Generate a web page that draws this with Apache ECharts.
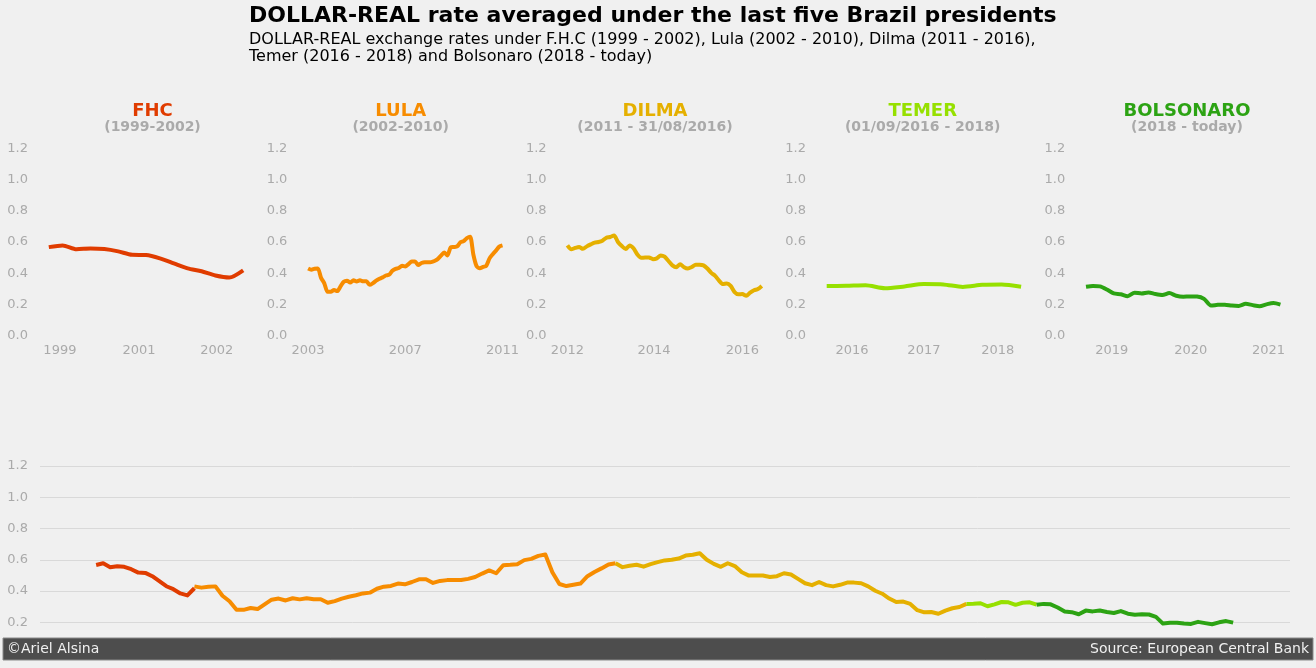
<!DOCTYPE html>
<html><head><meta charset="utf-8">
<script src="https://cdn.jsdelivr.net/npm/echarts@6/dist/echarts.min.js"></script>
<style>html,body{margin:0;padding:0;background:#f0f0f0}#chart{width:1316px;height:668px}</style>
</head><body><div id="chart"></div>
<script>
// ---------------- data ----------------
const mainTitle = 'DOLLAR-REAL rate averaged under the last five Brazil presidents';
const subTitle = 'DOLLAR-REAL exchange rates under F.H.C (1999 - 2002), Lula (2002 - 2010), Dilma (2011 - 2016),\nTemer (2016 - 2018) and Bolsonaro (2018 - today)';
const presidents = ['FHC', 'LULA', 'DILMA', 'TEMER', 'BOLSONARO'];
const periods = ['(1999-2002)', '(2002-2010)', '(2011 - 31/08/2016)', '(01/09/2016 - 2018)', '(2018 - today)'];

const fhcValues = [0.567,0.578,0.553,0.559,0.555,0.54,0.518,0.516,0.495,0.463,0.431,0.412,0.385,0.372,0.418];
const lulaValues = [0.43,0.422,0.428,0.43,0.37,0.335,0.28,0.28,0.292,0.285,0.315,0.345,0.352,0.34,0.354,0.347,0.354,0.348,0.348,0.325,0.336,0.352,0.364,0.373,0.385,0.39,0.415,0.428,0.433,0.448,0.443,0.458,0.475,0.475,0.452,0.465,0.47,0.47,0.471,0.478,0.49,0.512,0.532,0.514,0.565,0.568,0.572,0.598,0.606,0.625,0.634,0.52,0.445,0.432,0.44,0.448,0.495,0.522,0.545,0.57,0.578];
const dilmaValues = [0.578,0.553,0.562,0.568,0.556,0.572,0.585,0.596,0.6,0.608,0.627,0.632,0.642,0.6,0.574,0.555,0.578,0.56,0.52,0.499,0.5,0.5,0.49,0.495,0.514,0.506,0.478,0.45,0.438,0.458,0.438,0.43,0.44,0.454,0.454,0.45,0.43,0.402,0.383,0.352,0.33,0.333,0.318,0.278,0.264,0.266,0.255,0.275,0.29,0.298,0.318];
const temerValues = [0.318,0.319,0.322,0.303,0.315,0.33,0.328,0.312,0.325,0.328,0.313];
const bolsonaroValues = [0.313,0.318,0.315,0.295,0.27,0.265,0.252,0.275,0.27,0.276,0.266,0.26,0.272,0.255,0.249,0.251,0.25,0.235,0.192,0.197,0.198,0.192,0.19,0.203,0.195,0.188,0.2,0.208,0.198];

// x tick positions (in point index of each period) and their labels
const fhcTicks = [0.8, 6.5, 12.1];     const fhcTickLabels = ['1999', '2001', '2002'];
const lulaTicks = [0, 30, 60];         const lulaTickLabels = ['2003', '2007', '2011'];
const dilmaTicks = [0, 22.3, 45];      const dilmaTickLabels = ['2012', '2014', '2016'];
const temerTicks = [1.3, 5, 8.8];      const temerTickLabels = ['2016', '2017', '2018'];
const bolsonaroTicks = [3.7, 15.1, 26.3]; const bolsonaroTickLabels = ['2019', '2020', '2021'];

const footerLeft = '©Ariel Alsina';
const footerRight = 'Source: European Central Bank';

// ---------------- chart ----------------
const seriesValues = [fhcValues, lulaValues, dilmaValues, temerValues, bolsonaroValues];
const tickPos = [fhcTicks, lulaTicks, dilmaTicks, temerTicks, bolsonaroTicks];
const tickLab = [fhcTickLabels, lulaTickLabels, dilmaTickLabels, temerTickLabels, bolsonaroTickLabels];
const colors = ['#e03c00', '#f78c00', '#e5b000', '#96e000', '#2ca313'];
const headX = [152.5, 400.7, 655, 922.7, 1187];
const FONT = 'DejaVu Sans';
const grey = '#aaaaaa';

const grids = [], xAxes = [], yAxes = [], series = [];
const offsets = [];
let off = 0;
seriesValues.forEach((vals, k) => { offsets.push(off); off += vals.length - 1; });
const totalIdx = off;

seriesValues.forEach((vals, k) => {
  const L = vals.length - 1;
  const pad = L / 18;
  grids.push({ left: 38 + 259.3 * k, width: 216, top: 148.5, height: 187 });
  const ticks = tickPos[k], labs = tickLab[k];
  xAxes.push({
    type: 'value', gridIndex: k, min: -pad, max: L + pad,
    axisLine: { show: false }, axisTick: { show: false }, splitLine: { show: false },
    axisLabel: {
      customValues: ticks, color: grey, fontSize: 13, fontFamily: FONT, margin: 9,
      formatter: function (v) {
        for (let i = 0; i < ticks.length; i++) if (Math.abs(ticks[i] - v) < 1e-6) return labs[i];
        return '';
      }
    }
  });
  yAxes.push({
    type: 'value', gridIndex: k, min: 0, max: 1.2, interval: 0.2,
    axisLine: { show: false }, axisTick: { show: false }, splitLine: { show: false },
    axisLabel: { color: grey, fontSize: 13, fontFamily: FONT, margin: 10, formatter: v => v.toFixed(1) }
  });
  series.push({
    type: 'line', xAxisIndex: k, yAxisIndex: k, data: vals.map((v, i) => [i, v]),
    showSymbol: false, symbol: 'none', smooth: 0.25,
    lineStyle: { color: colors[k], width: 4, join: 'round' }, z: 3
  });
});

// bottom combined chart
grids.push({ left: 40, right: 26, top: 466, height: 187.6 });
xAxes.push({ type: 'value', gridIndex: 5, min: -8, max: totalIdx + 8.1, show: false });
yAxes.push({
  type: 'value', gridIndex: 5, min: 0, max: 1.2, interval: 0.2,
  axisLine: { show: false }, axisTick: { show: false },
  splitLine: { show: true, lineStyle: { color: '#d9d9d9', width: 1 } },
  axisLabel: { color: grey, fontSize: 13, fontFamily: FONT, margin: 12, showMinLabel: false, formatter: v => v.toFixed(1) }
});
seriesValues.forEach((vals, k) => {
  series.push({
    type: 'line', xAxisIndex: 5, yAxisIndex: 5,
    data: vals.map((v, i) => [offsets[k] + i, v]),
    showSymbol: false, symbol: 'none',
    lineStyle: { color: colors[k], width: 4, join: 'round' }, z: 3
  });
});

const graphics = [];
presidents.forEach((p, k) => {
  graphics.push({ type: 'text', x: headX[k], y: 111, z: 50,
    style: { text: p, fill: colors[k], font: 'bold 18px "DejaVu Sans"', align: 'center', verticalAlign: 'middle' } });
  graphics.push({ type: 'text', x: headX[k], y: 127.5, z: 50,
    style: { text: periods[k], fill: grey, font: 'bold 14px "DejaVu Sans"', align: 'center', verticalAlign: 'middle' } });
});
graphics.push({ type: 'rect', z: 100, shape: { x: 3, y: 638, width: 1310, height: 22 },
  style: { fill: '#4d4d4d', stroke: '#8a8a8a', lineWidth: 1 } });
graphics.push({ type: 'text', z: 101, x: 7, y: 649,
  style: { text: footerLeft, fill: '#f0f0f0', font: '14px "DejaVu Sans"', align: 'left', verticalAlign: 'middle' } });
graphics.push({ type: 'text', z: 101, x: 1309, y: 649,
  style: { text: footerRight, fill: '#f0f0f0', font: '14px "DejaVu Sans"', align: 'right', verticalAlign: 'middle' } });

const chart = echarts.init(document.getElementById('chart'), null, { renderer: 'canvas' });
chart.setOption({
  backgroundColor: '#f0f0f0',
  animation: false,
  textStyle: { fontFamily: FONT },
  title: [
    { text: mainTitle, left: 249, top: 5, padding: 0,
      textStyle: { fontSize: 22, fontWeight: 'bold', color: '#000', fontFamily: FONT } },
    { text: subTitle, left: 249, top: 31, padding: 0,
      textStyle: { fontSize: 16, fontWeight: 'normal', color: '#000', lineHeight: 17, fontFamily: FONT } }
  ],
  grid: grids, xAxis: xAxes, yAxis: yAxes, series: series,
  graphic: { elements: graphics }
});
</script></body></html>
